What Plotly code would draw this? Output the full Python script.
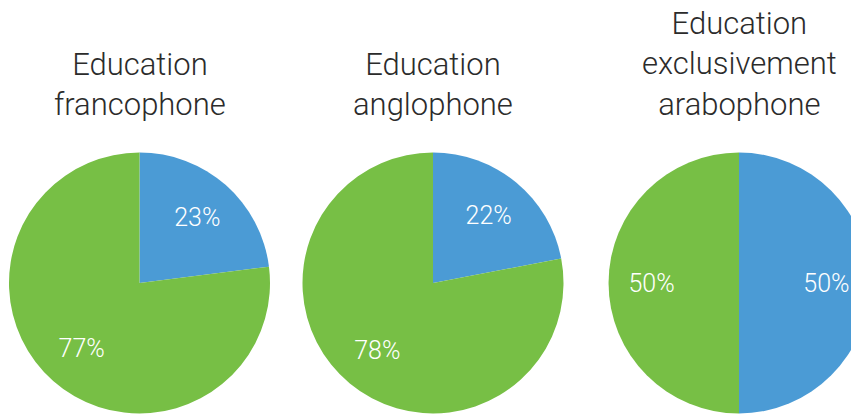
import plotly.graph_objects as go

titles = ["Education<br>francophone", "Education<br>anglophone", "Education<br>exclusivement<br>arabophone"]
slice_labels = ["Bleu", "Vert"]
values_francophone = [23, 77]
values_anglophone = [22, 78]
values_arabophone = [50, 50]
series = [values_francophone, values_anglophone, values_arabophone]
colors = ["#4B9BD5", "#77BF45"]

OFF = 8  # default page body margin
W, H = 880, 415
centers_px = [139.5 - OFF, 433 - OFF, 739 - OFF]
radius_px = 130.5
cy_px = 283 - OFF

fig = go.Figure()
for i, vals in enumerate(series):
    cx = centers_px[i]
    dom = dict(x=[(cx - radius_px) / W, (cx + radius_px) / W],
               y=[(H - cy_px - radius_px) / H, (H - cy_px + radius_px) / H])
    # filled pie
    fig.add_trace(go.Pie(
        labels=slice_labels, values=vals, sort=False,
        direction="clockwise", rotation=0,
        marker=dict(colors=colors, line=dict(width=0)),
        textinfo="none", hoverinfo="skip", showlegend=False,
        domain=dom,
    ))
    # transparent ring carrying the percentage labels
    fig.add_trace(go.Pie(
        labels=slice_labels, values=vals, sort=False,
        direction="clockwise", rotation=0, hole=0.34,
        marker=dict(colors=["rgba(0,0,0,0)", "rgba(0,0,0,0)"], line=dict(width=0)),
        texttemplate="%{percent:.0%}",
        textposition="inside",
        insidetextorientation="horizontal",
        textfont=dict(family="Roboto", size=25, color="white", weight=300),
        hoverinfo="skip", showlegend=False,
        domain=dom,
    ))
    fig.add_annotation(
        text=titles[i], x=cx / W, xref="paper", xanchor="center",
        y=(H - 125 + OFF) / H, yref="paper", yanchor="bottom",
        showarrow=False,
        font=dict(family="Roboto", size=31, color="#2b2b2b", weight=300),
    )

fig.update_layout(
    width=W, height=H,
    margin=dict(l=0, r=0, t=0, b=0),
    paper_bgcolor="white",
    plot_bgcolor="white",
)
fig.write_html("out.html")
